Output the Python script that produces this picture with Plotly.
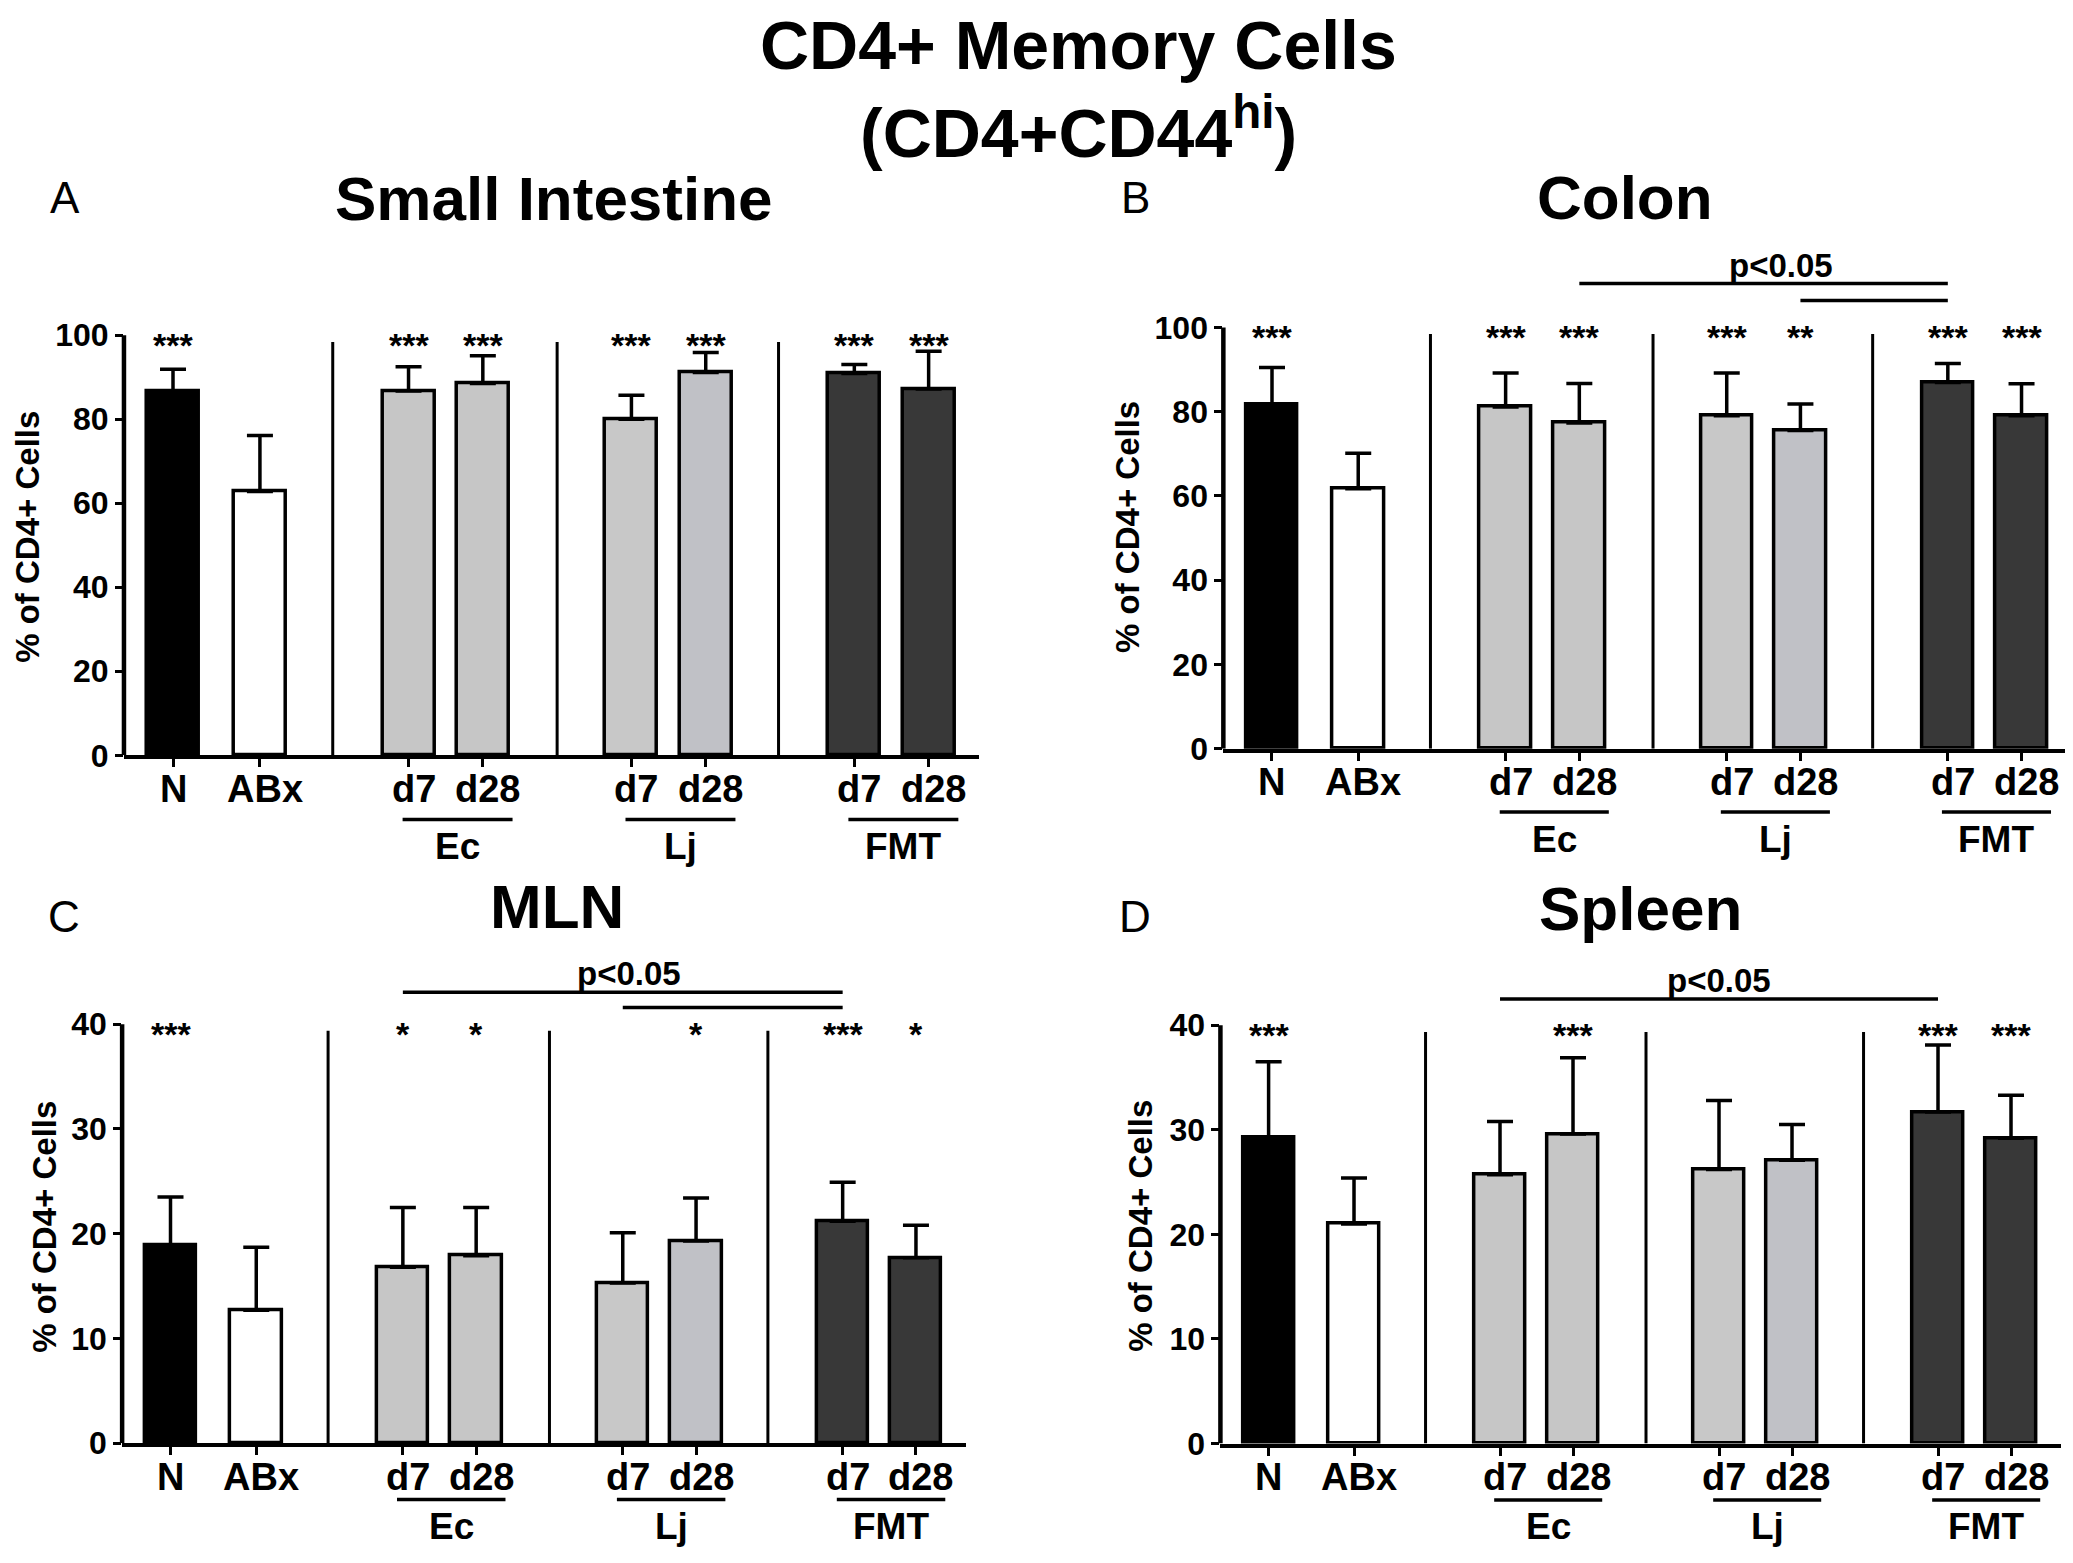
import plotly.graph_objects as go

W, H = 2073, 1563
FONT = "Liberation Sans, Arial, Helvetica, sans-serif"

# categories
tick_labels = ["N", "ABx", "d7", "d28", "d7", "d28", "d7", "d28"]
group_names = ["Ec", "Lj", "FMT"]
bar_colors = ["#000000", "#ffffff", "#c6c6c6", "#c6c6c6",
              "#c8c8c8", "#c0c1c6", "#383838", "#383838"]

# Small Intestine
si_mean = [86.6, 62.8, 86.7, 88.5, 80.0, 91.1, 90.9, 87.2]
si_sem = [5.3, 13.3, 5.8, 6.6, 5.7, 4.8, 2.1, 9.0]
si_sig = ["***", "", "***", "***", "***", "***", "***", "***"]

# Colon
colon_mean = [81.8, 61.7, 81.1, 77.3, 79.0, 75.5, 86.9, 79.0]
colon_sem = [8.7, 8.4, 8.1, 9.4, 10.2, 6.3, 4.5, 7.6]
colon_sig = ["***", "", "***", "***", "***", "**", "***", "***"]
colon_comp = [(3, 6), (5, 6)]
colon_comp_y = [110.4, 106.4]

# MLN
mln_mean = [18.9, 12.7, 16.8, 17.9, 15.3, 19.3, 21.2, 17.7]
mln_sem = [4.6, 6.0, 5.7, 4.6, 4.8, 4.1, 3.7, 3.1]
mln_sig = ["***", "", "*", "*", "", "*", "***", "*"]
mln_comp = [(2, 6), (4, 6)]
mln_comp_y = [43.05, 41.6]

# Spleen
spleen_mean = [29.3, 21.0, 25.7, 29.6, 26.2, 27.1, 31.7, 29.2]
spleen_sem = [7.2, 4.4, 5.1, 7.3, 6.6, 3.4, 6.4, 4.1]
spleen_sig = ["***", "", "", "***", "", "", "***", "***"]
spleen_comp = [(2, 6)]
spleen_comp_y = [42.5]

# bar positions on the numeric x axis
pos = [0, 1.17, 3.17, 4.17, 6.17, 7.17, 9.17, 10.17]
seps = [2.15, 5.17, 8.15]
XMIN, XMAX = -0.66, 10.85

panels = [
    dict(title="Small Intestine", letter="A", mean=si_mean, sem=si_sem, sig=si_sig,
         comp=[], comp_y=[], ptext_x=None,
         n_px=165, unit=74.3, y0=756, pxu=4.25, ymax=110, ytop=100, ystep=20,
         title_xy=(546, 193), letter_xy=(57, 192), ytitle_xy=(20, 535),
         gline=65, glabel=92),
    dict(title="Colon", letter="B", mean=colon_mean, sem=colon_sem, sig=colon_sig,
         comp=colon_comp, comp_y=colon_comp_y, ptext_x=6.9,
         n_px=1264, unit=73.7, y0=749.3, pxu=4.262, ymax=118, ytop=100, ystep=20,
         title_xy=(1617, 192), letter_xy=(1127, 192), ytitle_xy=(1120, 525),
         gline=64, glabel=92),
    dict(title="MLN", letter="C", mean=mln_mean, sem=mln_sem, sig=mln_sig,
         comp=mln_comp, comp_y=mln_comp_y, ptext_x=6.25,
         n_px=162.5, unit=73.3, y0=1452, pxu=10.6, ymax=46, ytop=40, ystep=10,
         title_xy=(549, 909), letter_xy=(56, 919), ytitle_xy=(37, 1233),
         gline=57, glabel=84),
    dict(title="Spleen", letter="D", mean=spleen_mean, sem=spleen_sem, sig=spleen_sig,
         comp=spleen_comp, comp_y=spleen_comp_y, ptext_x=6.17,
         n_px=1260.6, unit=73.0, y0=1452.3, pxu=10.58, ymax=46, ytop=40, ystep=10,
         title_xy=(1632, 911), letter_xy=(1127, 919), ytitle_xy=(1133, 1232),
         gline=57, glabel=84),
]


def px_x(v):
    return v / W


def px_y(v):
    return 1 - v / H


def bold(size):
    return dict(family=FONT, size=size, color="black", weight="bold")


fig = go.Figure()
shapes = []
annotations = []

for k, p in enumerate(panels, start=1):
    xa = "x" if k == 1 else f"x{k}"
    ya = "y" if k == 1 else f"y{k}"
    xl = p["n_px"] + XMIN * p["unit"]
    xr = p["n_px"] + XMAX * p["unit"]
    ybot = p["y0"]
    ytop_px = p["y0"] - p["ymax"] * p["pxu"]

    fig.add_trace(go.Bar(
        x=pos, y=p["mean"], width=0.70,
        marker=dict(color=bar_colors, line=dict(color="black", width=3.5)),
        error_y=dict(type="data", symmetric=False, array=p["sem"],
                     arrayminus=[0] * len(p["sem"]),
                     color="black", thickness=3.5, width=13),
        xaxis=xa, yaxis=ya, showlegend=False, hoverinfo="skip",
    ))

    fig.layout[f"xaxis{'' if k == 1 else k}"] = dict(
        domain=[px_x(xl), px_x(xr)], range=[XMIN, XMAX], anchor=ya,
        tickvals=pos, showticklabels=False, ticks="outside", ticklen=8,
        tickwidth=3, tickcolor="black", showline=True, linewidth=4,
        linecolor="black", showgrid=False, zeroline=False, fixedrange=True,
    )
    fig.layout[f"yaxis{'' if k == 1 else k}"] = dict(
        domain=[px_y(ybot), px_y(ytop_px)], range=[0, p["ymax"]], anchor=xa,
        tickvals=list(range(0, p["ytop"] + 1, p["ystep"])), ticks="outside",
        ticklen=8, tickwidth=3, tickcolor="black", showline=False,
        showgrid=False, zeroline=False, tickfont=bold(32), fixedrange=True,
    )

    # category labels under the ticks
    for xi, lab in zip(pos, tick_labels):
        annotations.append(dict(text=lab, xref=xa, yref="paper", x=xi,
                                y=px_y(ybot + 34), xshift=0 if lab == "N" else 5,
                                showarrow=False, xanchor="center",
                                yanchor="middle", font=bold(38)))

    # y axis line stopping at the top tick
    shapes.append(dict(type="line", xref=f"{xa} domain", yref=ya, x0=0, x1=0,
                       y0=0, y1=p["ytop"], line=dict(color="black", width=4.5)))
    # group separators
    for s in seps:
        shapes.append(dict(type="line", xref=xa, yref=ya, x0=s, x1=s, y0=0,
                           y1=p["ytop"] * 0.984, line=dict(color="black", width=3)))
    # group underlines and labels
    for g, name in enumerate(group_names):
        a, b = pos[2 + 2 * g], pos[3 + 2 * g]
        x0, x1 = a - 0.08, b + 0.40
        shapes.append(dict(type="line", xref=xa, yref="paper", x0=x0, x1=x1,
                           y0=px_y(ybot + p["gline"]), y1=px_y(ybot + p["gline"]),
                           line=dict(color="black", width=3.5)))
        annotations.append(dict(text=name, xref=xa, yref="paper", x=(x0 + x1) / 2,
                                y=px_y(ybot + p["glabel"]), showarrow=False,
                                xanchor="center", yanchor="middle", font=bold(37)))
    # significance stars
    for xi, s in zip(pos, p["sig"]):
        if s:
            annotations.append(dict(text=s, xref=xa, yref=ya, x=xi,
                                    y=p["ytop"] * 0.995, yshift=-8,
                                    showarrow=False, xanchor="center",
                                    yanchor="middle", font=bold(34)))
    # comparison bars
    for (i, j), yv in zip(p["comp"], p["comp_y"]):
        shapes.append(dict(type="line", xref=xa, yref=ya, x0=pos[i], x1=pos[j],
                           y0=yv, y1=yv, line=dict(color="black", width=3.5)))
    if p["comp"]:
        annotations.append(dict(text="p<0.05", xref=xa, yref=ya, x=p["ptext_x"],
                                y=max(p["comp_y"]), yanchor="bottom", yshift=-2,
                                showarrow=False, xanchor="center", font=bold(33)))
    # y axis title
    annotations.append(dict(text="% of CD4+ Cells", xref="paper", yref="paper",
                            x=px_x(p["ytitle_xy"][0]), y=px_y(p["ytitle_xy"][1]),
                            textangle=-90, showarrow=False, xanchor="center",
                            yanchor="middle", font=bold(33)))
    # panel title and letter
    annotations.append(dict(text=p["title"], xref="paper", yref="paper",
                            x=px_x(p["title_xy"][0]), y=px_y(p["title_xy"][1]),
                            showarrow=False, xanchor="center", yanchor="middle",
                            font=bold(62)))
    annotations.append(dict(text=p["letter"], xref="paper", yref="paper",
                            x=px_x(p["letter_xy"][0]), y=px_y(p["letter_xy"][1]),
                            showarrow=False, xanchor="center", yanchor="middle",
                            font=dict(family=FONT, size=44, color="black")))

# main title
annotations.append(dict(text="CD4+ Memory Cells", xref="paper", yref="paper",
                        x=px_x(1070), y=px_y(37), showarrow=False,
                        xanchor="center", yanchor="middle", font=bold(68)))
annotations.append(dict(text="(CD4+CD44<sup>hi</sup>)", xref="paper", yref="paper",
                        x=px_x(1070), y=px_y(121), showarrow=False,
                        xanchor="center", yanchor="middle", font=bold(68)))

fig.update_layout(
    width=W, height=H, margin=dict(l=0, r=0, t=0, b=0),
    paper_bgcolor="white", plot_bgcolor="white",
    shapes=shapes, annotations=annotations, bargap=0,
)

fig.write_html("out.html")
